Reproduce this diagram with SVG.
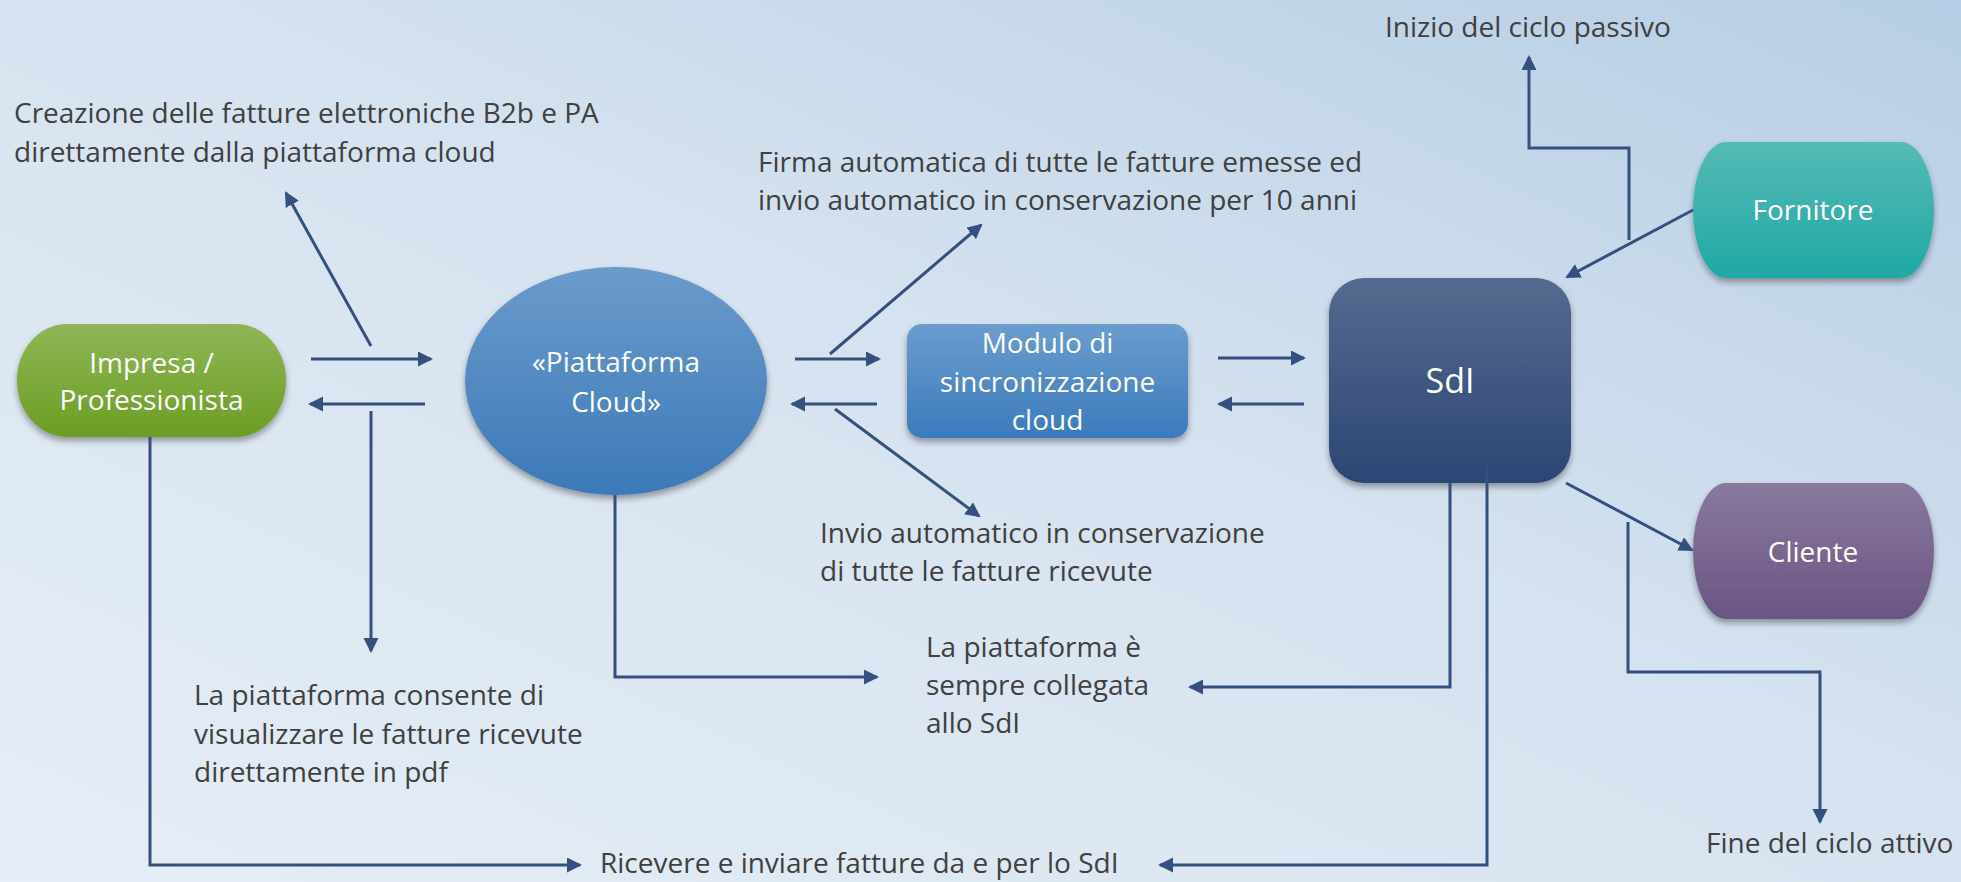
<svg xmlns="http://www.w3.org/2000/svg" width="1961" height="882" viewBox="0 0 1961 882">
<style>
.lbl{font-family:"Open Sans","Noto Sans","Liberation Sans",sans-serif;font-size:28px;fill:#404040}
.nt{font-family:"Open Sans","Noto Sans","Liberation Sans",sans-serif;font-size:28px;fill:#ffffff;text-anchor:middle}
.cn{fill:none;stroke:#34507f;stroke-width:3}
.arr{marker-end:url(#ah)}
</style>
<defs>
<linearGradient id="bg" x1="0" y1="1" x2="1" y2="0">
<stop offset="0" stop-color="#e6eef7"/>
<stop offset="0.55" stop-color="#d5e2ef"/>
<stop offset="1" stop-color="#b6cee5"/>
</linearGradient>
<linearGradient id="gGreen" x1="0" y1="0" x2="0" y2="1"><stop offset="0" stop-color="#8fb656"/><stop offset="1" stop-color="#6c9d24"/></linearGradient>
<linearGradient id="gCloud" x1="0" y1="0" x2="0" y2="1"><stop offset="0" stop-color="#6b9bcb"/><stop offset="1" stop-color="#3c79b8"/></linearGradient>
<linearGradient id="gMod" x1="0" y1="0" x2="0" y2="1"><stop offset="0" stop-color="#6b9cce"/><stop offset="1" stop-color="#3b7bbc"/></linearGradient>
<linearGradient id="gSdi" x1="0" y1="0" x2="0" y2="1"><stop offset="0" stop-color="#566a8f"/><stop offset="1" stop-color="#2b4674"/></linearGradient>
<linearGradient id="gForn" x1="0" y1="0" x2="0" y2="1"><stop offset="0" stop-color="#56bab5"/><stop offset="1" stop-color="#1fa8a5"/></linearGradient>
<linearGradient id="gCli" x1="0" y1="0" x2="0" y2="1"><stop offset="0" stop-color="#8a799d"/><stop offset="1" stop-color="#6a5584"/></linearGradient>
<filter id="sh" x="-10%" y="-10%" width="120%" height="130%">
<feDropShadow dx="0" dy="4" stdDeviation="3" flood-color="#000" flood-opacity="0.35"/>
</filter>
<marker id="ah" markerUnits="userSpaceOnUse" markerWidth="16" markerHeight="16" refX="13" refY="7.5" orient="auto">
<path d="M0,0 L15,7.5 L0,15 z" fill="#34507f"/>
</marker>
</defs>
<rect x="0" y="0" width="1961" height="882" fill="url(#bg)"/>

<g id="impresa">
<rect x="17" y="324" width="269" height="113" rx="50" ry="56" fill="url(#gGreen)" filter="url(#sh)"/>
<text class="nt" x="151.5" y="373">Impresa /</text>
<text class="nt" x="151.5" y="410">Professionista</text>
</g>
<g id="piattaforma">
<ellipse cx="616" cy="381" rx="151" ry="114" fill="url(#gCloud)" filter="url(#sh)"/>
<text class="nt" x="616" y="372">«Piattaforma</text>
<text class="nt" x="616" y="412">Cloud»</text>
</g>
<g id="modulo">
<rect x="907" y="324" width="281" height="114" rx="15" fill="url(#gMod)" filter="url(#sh)"/>
<text class="nt" x="1047.5" y="353">Modulo di</text>
<text class="nt" x="1047.5" y="392">sincronizzazione</text>
<text class="nt" x="1047.5" y="430">cloud</text>
</g>
<g id="sdi">
<rect x="1329" y="278" width="242" height="205" rx="35" fill="url(#gSdi)" filter="url(#sh)"/>
<text class="nt" x="1450" y="393" style="font-size:34px">SdI</text>
</g>
<g id="fornitore">
<rect x="1693" y="142" width="241" height="136" rx="33" ry="68" fill="url(#gForn)" filter="url(#sh)"/>
<text class="nt" x="1813" y="220">Fornitore</text>
</g>
<g id="cliente">
<rect x="1693" y="483" width="241" height="136" rx="33" ry="68" fill="url(#gCli)" filter="url(#sh)"/>
<text class="nt" x="1813" y="562">Cliente</text>
</g>

<g id="connectors">
<path class="cn arr" d="M311,359 L431,359"/>
<path class="cn arr" d="M425,404 L310,404"/>
<path class="cn arr" d="M371,346 L286,193"/>
<path class="cn arr" d="M371,411 L371,651"/>
<path class="cn arr" d="M795,359 L879,359"/>
<path class="cn arr" d="M877,404 L792,404"/>
<path class="cn arr" d="M830,354 L981,225"/>
<path class="cn arr" d="M835,409 L979,516"/>
<path class="cn arr" d="M1218,358 L1304,358"/>
<path class="cn arr" d="M1304,404 L1219,404"/>
<path class="cn arr" d="M150,437 L150,865 L580,865"/>
<path class="cn arr" d="M615,495 L615,677 L877,677"/>
<path class="cn arr" d="M1450,483 L1450,687 L1190,687"/>
<path class="cn arr" d="M1487,466 L1487,865 L1160,865"/>
<path class="cn arr" d="M1566,483 L1692,550"/>
<path class="cn arr" d="M1628,522 L1628,672 L1820,672 L1820,822"/>
<path class="cn arr" d="M1693,210 L1567,277"/>
<path class="cn arr" d="M1629,240 L1629,148 L1529,148 L1529,57"/>
</g>

<g id="labels">
<text class="lbl" x="14" y="123">Creazione delle fatture elettroniche B2b e PA</text>
<text class="lbl" x="14" y="162">direttamente dalla piattaforma cloud</text>
<text class="lbl" x="758" y="172">Firma automatica di tutte le fatture emesse ed</text>
<text class="lbl" x="758" y="210">invio automatico in conservazione per 10 anni</text>
<text class="lbl" x="1385" y="37">Inizio del ciclo passivo</text>
<text class="lbl" x="820" y="543">Invio automatico in conservazione</text>
<text class="lbl" x="820" y="581">di tutte le fatture ricevute</text>
<text class="lbl" x="194" y="705">La piattaforma consente di</text>
<text class="lbl" x="194" y="744">visualizzare le fatture ricevute</text>
<text class="lbl" x="194" y="782">direttamente in pdf</text>
<text class="lbl" x="926" y="657">La piattaforma è</text>
<text class="lbl" x="926" y="695">sempre collegata</text>
<text class="lbl" x="926" y="733">allo SdI</text>
<text class="lbl" x="600" y="873">Ricevere e inviare fatture da e per lo SdI</text>
<text class="lbl" x="1706" y="853">Fine del ciclo attivo</text>
</g>
</svg>
